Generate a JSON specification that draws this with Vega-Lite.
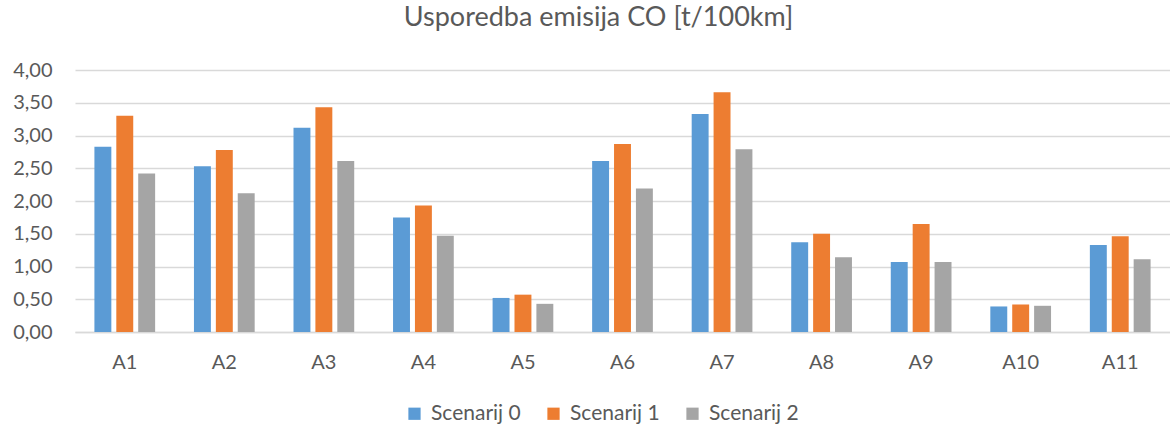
{
  "$schema": "https://vega.github.io/schema/vega-lite/v6.json",
  "width": 1095,
  "height": 262,
  "autosize": {"type": "none"},
  "padding": {"left": 75, "top": 70, "right": 0, "bottom": 98},
  "background": "white",
  "title": {
    "text": "Usporedba emisija CO [t/100km]",
    "font": "Lato",
    "fontSize": 27,
    "fontWeight": "normal",
    "color": "#595959",
    "anchor": "middle",
    "dx": -24,
    "offset": 28
  },
  "config": {
    "view": {"stroke": null},
    "font": "Lato"
  },
  "data": {
    "values": [
      {"kat": "A1", "scenarij": "Scenarij 0", "v": 2.83},
      {"kat": "A1", "scenarij": "Scenarij 1", "v": 3.30},
      {"kat": "A1", "scenarij": "Scenarij 2", "v": 2.42},
      {"kat": "A2", "scenarij": "Scenarij 0", "v": 2.53},
      {"kat": "A2", "scenarij": "Scenarij 1", "v": 2.78},
      {"kat": "A2", "scenarij": "Scenarij 2", "v": 2.12},
      {"kat": "A3", "scenarij": "Scenarij 0", "v": 3.12},
      {"kat": "A3", "scenarij": "Scenarij 1", "v": 3.43},
      {"kat": "A3", "scenarij": "Scenarij 2", "v": 2.61},
      {"kat": "A4", "scenarij": "Scenarij 0", "v": 1.75},
      {"kat": "A4", "scenarij": "Scenarij 1", "v": 1.93},
      {"kat": "A4", "scenarij": "Scenarij 2", "v": 1.47},
      {"kat": "A5", "scenarij": "Scenarij 0", "v": 0.52},
      {"kat": "A5", "scenarij": "Scenarij 1", "v": 0.57},
      {"kat": "A5", "scenarij": "Scenarij 2", "v": 0.43},
      {"kat": "A6", "scenarij": "Scenarij 0", "v": 2.61},
      {"kat": "A6", "scenarij": "Scenarij 1", "v": 2.87},
      {"kat": "A6", "scenarij": "Scenarij 2", "v": 2.19},
      {"kat": "A7", "scenarij": "Scenarij 0", "v": 3.33},
      {"kat": "A7", "scenarij": "Scenarij 1", "v": 3.66},
      {"kat": "A7", "scenarij": "Scenarij 2", "v": 2.79},
      {"kat": "A8", "scenarij": "Scenarij 0", "v": 1.37},
      {"kat": "A8", "scenarij": "Scenarij 1", "v": 1.50},
      {"kat": "A8", "scenarij": "Scenarij 2", "v": 1.14},
      {"kat": "A9", "scenarij": "Scenarij 0", "v": 1.07},
      {"kat": "A9", "scenarij": "Scenarij 1", "v": 1.65},
      {"kat": "A9", "scenarij": "Scenarij 2", "v": 1.07},
      {"kat": "A10", "scenarij": "Scenarij 0", "v": 0.39},
      {"kat": "A10", "scenarij": "Scenarij 1", "v": 0.42},
      {"kat": "A10", "scenarij": "Scenarij 2", "v": 0.40},
      {"kat": "A11", "scenarij": "Scenarij 0", "v": 1.33},
      {"kat": "A11", "scenarij": "Scenarij 1", "v": 1.46},
      {"kat": "A11", "scenarij": "Scenarij 2", "v": 1.11}
    ]
  },
  "mark": {"type": "bar"},
  "encoding": {
    "x": {
      "field": "kat",
      "type": "nominal",
      "sort": null,
      "title": null,
      "scale": {"paddingInner": 0.39, "paddingOuter": 0.195},
      "axis": {
        "labelAngle": 0,
        "labelFont": "Lato",
        "labelFontSize": 20,
        "labelColor": "#595959",
        "labelPadding": 20,
        "ticks": false,
        "domainColor": "#D9D9D9",
        "domainWidth": 1.5
      }
    },
    "xOffset": {
      "field": "scenarij",
      "type": "nominal",
      "scale": {"paddingInner": 0.227, "paddingOuter": 0}
    },
    "y": {
      "field": "v",
      "type": "quantitative",
      "title": null,
      "scale": {"domain": [0, 4], "nice": false},
      "axis": {
        "values": [0, 0.5, 1, 1.5, 2, 2.5, 3, 3.5, 4],
        "labelExpr": "replace(format(datum.value, '.2f'), '.', ',')",
        "labelFont": "Lato",
        "labelFontSize": 20,
        "labelColor": "#595959",
        "labelPadding": 23,
        "domain": false,
        "ticks": false,
        "gridColor": "#D9D9D9",
        "gridWidth": 1.5
      }
    },
    "color": {
      "field": "scenarij",
      "type": "nominal",
      "title": null,
      "scale": {
        "domain": ["Scenarij 0", "Scenarij 1", "Scenarij 2"],
        "range": ["#5B9BD5", "#ED7D31", "#A5A5A5"]
      },
      "legend": {
        "orient": "none",
        "legendX": 329,
        "legendY": 333,
        "direction": "horizontal",
        "symbolType": "square",
        "symbolSize": 150,
        "symbolStrokeWidth": 0,
        "labelFont": "Lato",
        "labelFontSize": 21,
        "labelColor": "#595959",
        "labelOffset": 6,
        "columnPadding": 22
      }
    }
  }
}
